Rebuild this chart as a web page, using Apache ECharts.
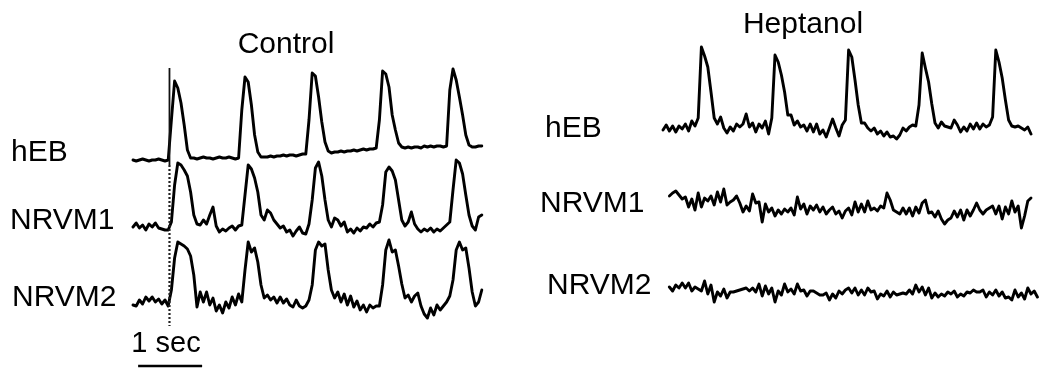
<!DOCTYPE html>
<html>
<head>
<meta charset="utf-8">
<style>
  html, body { margin: 0; padding: 0; background: #fff; }
  #chart { width: 1039px; height: 369px; }
</style>
<script src="https://cdn.jsdelivr.net/npm/echarts@6/dist/echarts.min.js"></script>
</head>
<body>
<div id="chart"></div>
<script>
// Optical recordings, sampled every 50 ms. Values are fluorescence (a.u.) relative to each trace's resting level.
const sampleInterval = 0.05; // s
const traceNames = ['hEB', 'NRVM1', 'NRVM2'];
const panelTitles = ['Control', 'Heptanol'];
const scaleBarLabel = '1 sec';
const scaleBarLength = 1; // s
const stimTime = 0.57; // s, pacing marker in the control record

const ctrlHEB = [
  0,-1,0,1,0,-1,0,0,1,0,-1,0,40,79,72,57,35,10,2,
  2,1,2,3,2,2,1,2,3,2,2,3,2,1,2,
  50,83,78,55,25,8,3,
  3,3,4,3,4,4,5,4,5,5,4,5,6,6,
  40,87,84,63,38,18,9,
  7,8,8,9,8,9,9,10,9,10,11,10,11,11,12,
  40,89,86,73,45,30,17,13,
  12,13,12,13,13,12,14,13,14,13,14,14,13,14,
  70,91,80,63,45,25,15,13,13,14,14
];
const ctrlNRVM1 = [
  3,7,2,5,0,6,3,7,2,1,0,0,
  8,45,67,65,60,54,38,15,6,5,10,6,15,23,4,-2,1,-1,2,4,0,4,
  5,35,65,61,52,38,15,10,20,17,10,6,2,4,-2,0,-6,-1,3,-3,-4,
  6,30,62,68,54,30,10,3,12,10,4,8,-2,1,-3,2,-1,3,2,6,3,7,8,
  25,58,63,59,50,30,10,4,8,18,6,1,-2,1,-1,2,-2,1,-1,2,5,8,
  40,70,67,56,35,15,4,0,13,15
];
const ctrlNRVM2 = [
  -3,-4,2,-2,5,1,5,0,3,-2,2,-4,
  12,44,60,58,56,53,46,27,-5,10,0,10,-3,4,-9,-3,-11,0,-6,5,-3,8,0,
  32,60,50,54,40,17,4,7,2,5,-1,5,-1,3,-3,-5,2,-4,-6,-4,
  2,17,52,60,56,58,32,12,4,10,0,8,-3,6,-5,1,-8,-3,-10,-3,-6,-4,-4,
  17,52,62,50,52,36,18,4,7,0,6,9,-4,-12,-16,-6,-13,-3,-8,-4,0,6,
  22,52,60,52,54,34,10,-4,0,12
];

const heptHEB = [
  0,5,-1,4,-2,4,1,6,-1,9,4,12,
  83,74,63,38,12,6,13,2,-3,3,-1,6,3,6,16,3,7,-2,6,2,9,-4,12,
  75,68,55,38,15,15,5,9,3,5,-1,6,-2,6,-4,0,-7,2,11,2,-6,5,10,
  80,73,50,25,7,7,2,-1,2,-4,-1,-6,-2,-7,-6,-9,-5,2,-1,3,5,4,25,
  77,62,48,26,7,2,8,4,3,2,10,5,-2,3,-1,6,1,7,1,6,3,5,13,
  80,68,52,30,10,4,3,4,2,0,3,-4,null,null
];
const heptNRVM1 = [
  null,null,
  9,12,14,10,6,8,-2,6,-5,12,-2,7,4,9,0,13,3,16,0,3,5,9,2,
  -7,-1,-6,11,2,3,-17,1,-7,-3,-11,-5,-9,-4,-7,-3,-10,8,-4,1,-9,-1,-5,
  0,-7,-2,-9,-5,-2,-9,-6,-13,-6,-3,-10,3,-7,1,-7,4,-5,-3,-6,-1,-3,12,
  5,-5,-7,-9,-3,-9,-3,-11,-2,-8,2,5,-8,-7,-12,-6,-14,-19,-15,-13,-6,-12,-5,
  -15,-5,-11,-5,2,-5,-9,-5,-3,-1,-9,-1,-14,-2,-9,4,-7,-1,-23,-11,4,7,null,null
];
const heptNRVM2 = [
  null,null,
  3,-1,5,2,7,2,7,-1,3,1,-1,9,-4,5,-12,-2,-6,1,-8,-2,-2,-1,0,
  1,2,-1,2,-2,6,-6,4,-4,2,-12,-1,-5,6,-2,1,-4,6,-1,0,-6,-1,-1,
  -3,-5,-5,-3,-10,-4,-8,-1,-4,0,2,-3,2,-5,0,-5,2,-2,-1,-9,-4,-6,-1,
  -7,-2,-5,-4,-3,-4,0,-4,5,-2,3,-5,2,-8,-3,-7,-4,-6,-2,-4,-1,-7,-4,
  -6,-2,-3,0,-2,-2,0,-7,-2,-5,0,-6,-2,-8,-7,-10,0,-7,-3,-9,2,-4,-1,-7
];

// ---- layout ----
const H = 369;
const pxPerSec = 64;
const FONT = '"Liberation Sans", Arial, Helvetica, sans-serif';
const panels = [
  { left: 133, traces: [ctrlHEB, ctrlNRVM1, ctrlNRVM2], offsets: [209, 139, 67],
    title: { x: 286, y: 45 },
    labels: [{ x: 11, y: 153 }, { x: 10, y: 221 }, { x: 12, y: 298 }] },
  { left: 663, traces: [heptHEB, heptNRVM1, heptNRVM2], offsets: [239, 164, 79],
    title: { x: 803, y: 25 },
    labels: [{ x: 545, y: 129 }, { x: 540, y: 204 }, { x: 547, y: 286 }] }
];

const grid = [], xAxis = [], yAxis = [], series = [], graphic = [];

panels.forEach((p, k) => {
  const n = Math.max(...p.traces.map(t => t.length));
  const tMax = (n - 1) * sampleInterval;
  grid.push({ left: p.left, top: 0, width: tMax * pxPerSec, height: H, containLabel: false });
  xAxis.push({ type: 'value', gridIndex: k, min: 0, max: tMax, show: false });
  yAxis.push({ type: 'value', gridIndex: k, min: 0, max: H, show: false });
  p.traces.forEach((vals, j) => {
    const pts = [];
    vals.forEach((v, i) => { if (v !== null) pts.push([i * sampleInterval, v + p.offsets[j]]); });
    series.push({
      type: 'line', name: panelTitles[k] + ' ' + traceNames[j],
      xAxisIndex: k, yAxisIndex: k, data: pts,
      showSymbol: false, symbol: 'none', smooth: false, silent: true,
      lineStyle: { color: '#000', width: 2.9, join: 'round', cap: 'round' }
    });
    graphic.push({
      type: 'text', x: p.labels[j].x, y: p.labels[j].y,
      style: { text: traceNames[j], fill: '#000', font: '30px ' + FONT, align: 'left', verticalAlign: 'middle' }
    });
  });
  graphic.push({
    type: 'text', x: p.title.x, y: p.title.y,
    style: { text: panelTitles[k], fill: '#000', font: '30px ' + FONT, align: 'center', verticalAlign: 'middle' }
  });
});

// pacing marker: solid upper part, dotted lower part
series.push({
  type: 'line', xAxisIndex: 0, yAxisIndex: 0, silent: true, showSymbol: false, symbol: 'none',
  data: [[stimTime, H - 68], [stimTime, H - 165]],
  lineStyle: { color: '#111', width: 1.8 }
});
series.push({
  type: 'line', xAxisIndex: 0, yAxisIndex: 0, silent: true, showSymbol: false, symbol: 'none',
  data: [[stimTime, H - 165], [stimTime, H - 326]],
  lineStyle: { color: '#222', width: 2.2, type: [2, 2] }
});

// time scale bar
const barStart = 0.08;
series.push({
  type: 'line', xAxisIndex: 0, yAxisIndex: 0, silent: true, showSymbol: false, symbol: 'none',
  data: [[barStart, H - 366], [barStart + scaleBarLength, H - 366]],
  lineStyle: { color: '#000', width: 2.4 }
});
graphic.push({
  type: 'text', x: 166, y: 344,
  style: { text: scaleBarLabel, fill: '#000', font: '29px ' + FONT, align: 'center', verticalAlign: 'middle' }
});

const chart = echarts.init(document.getElementById('chart'), null, { renderer: 'canvas' });
chart.setOption({
  animation: false,
  backgroundColor: '#fff',
  grid, xAxis, yAxis, series, graphic
});
</script>
</body>
</html>
